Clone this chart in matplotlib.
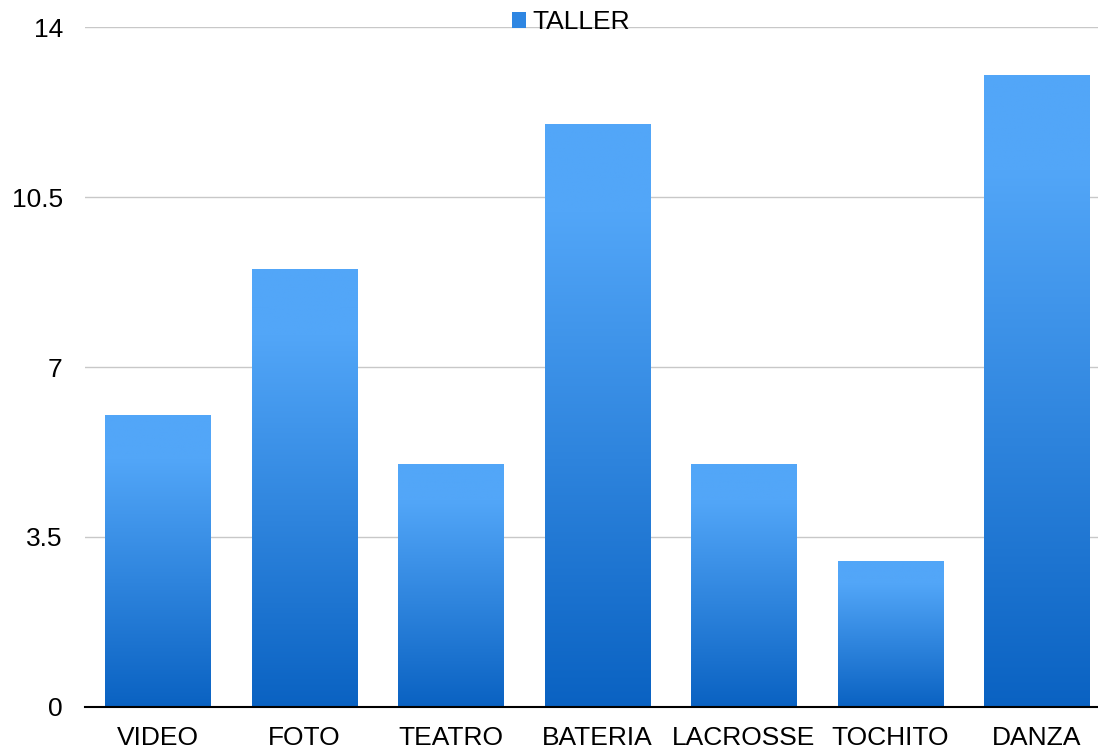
import numpy as np
import matplotlib
matplotlib.use("Agg")
import matplotlib.pyplot as plt
from matplotlib.colors import LinearSegmentedColormap
from matplotlib.patches import Patch

categories = ["VIDEO", "FOTO", "TEATRO", "BATERIA", "LACROSSE", "TOCHITO", "DANZA"]
values = [6, 9, 5, 12, 5, 3, 13]
yticks = [0, 3.5, 7, 10.5, 14]
ytick_labels = ["0", "3.5", "7", "10.5", "14"]

plt.rcParams['font.family'] = ['Liberation Sans', 'DejaVu Sans']

fig = plt.figure(figsize=(10.98, 7.53), dpi=100)
ax = fig.add_axes([85 / 1098, 1 - 707 / 753, 1025 / 1098, 680 / 753])

# light at top, darker toward the base
cmap = LinearSegmentedColormap.from_list(
    "bar", [(0.0, "#0A62C2"), (0.85, "#52A6F8"), (1.0, "#52A6F8")])
grad = np.linspace(1, 0, 256).reshape(-1, 1)

width = 0.72
for i, v in enumerate(values):
    ax.imshow(grad, cmap=cmap, vmin=0, vmax=1, aspect='auto',
              extent=[i - width / 2, i + width / 2, 0, v], zorder=2)

ax.set_xlim(-0.5, len(categories) - 0.5)
ax.set_ylim(0, 14)
ax.set_xticks(range(len(categories)))
ax.set_xticklabels(categories, fontsize=19)
ax.set_yticks(yticks)
ax.set_yticklabels(ytick_labels, fontsize=19)
ax.tick_params(length=0)
ax.tick_params(axis='x', pad=14)
ax.tick_params(axis='y', pad=16)
ax.grid(axis='y', color='#C8C8C8', linewidth=1, zorder=0)
for s in ['top', 'right', 'left']:
    ax.spines[s].set_visible(False)
ax.spines['bottom'].set_color('black')
ax.spines['bottom'].set_linewidth(1.5)
ax.spines['bottom'].set_zorder(3)

handle = Patch(facecolor='#2E86E2', edgecolor='none')
fig.legend([handle], ["TALLER"], loc='center', bbox_to_anchor=(571 / 1098, 1 - 22 / 753),
           frameon=False, fontsize=19, handlelength=0.55, handleheight=0.55,
           handletextpad=0.25, borderpad=0)

fig.savefig("out.png", dpi=100)
